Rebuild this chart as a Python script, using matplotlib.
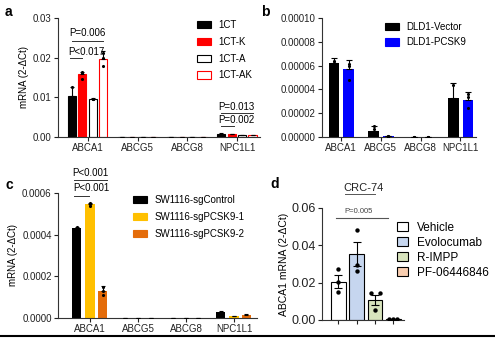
import matplotlib
matplotlib.use("Agg")
import matplotlib.pyplot as plt
from matplotlib.patches import Patch
import numpy as np

plt.rcParams['font.family'] = ['Liberation Sans', 'DejaVu Sans']

W, H = 495, 338

genes = ["ABCA1", "ABCG5", "ABCG8", "NPC1L1"]

# Panel a
a_series = ["1CT", "1CT-K", "1CT-A", "1CT-AK"]
a_means = [[0.0104, 0.0001, 0.0001, 0.0008],
           [0.0158, 0.0001, 0.0001, 0.0007],
           [0.0096, 0.0001, 0.0001, 0.0005],
           [0.0197, 0.0001, 0.0001, 0.0005]]
a_err = [[0.0023, 0.0, 0.0, 0.0001],
         [0.0007, 0.0, 0.0, 0.0001],
         [0.0002, 0.0, 0.0, 0.0001],
         [0.0020, 0.0, 0.0, 0.0001]]
a_pts_abca1 = [[0.0127, 0.0093, 0.0092],
               [0.0165, 0.0162, 0.0146],
               [0.0097, 0.0096, 0.0095],
               [0.0212, 0.0200, 0.0178]]
a_ticks = [0.00, 0.01, 0.02, 0.03]
a_ticklabels = ["0.00", "0.01", "0.02", "0.03"]

# Panel b
b_series = ["DLD1-Vector", "DLD1-PCSK9"]
b_means = [[0.0000625, 0.0000050, 0.0000002, 0.0000330],
           [0.0000570, 0.0000008, 0.0000002, 0.0000310]]
b_err = [[0.0000040, 0.0000040, 0.0, 0.0000120],
         [0.0000075, 0.0000004, 0.0, 0.0000065]]
b_pts = [[[0.0000640, 0.0000620, 0.0000615], [0.0000090, 0.0000070, 0.0000020], [0.0000002] * 3, [0.0000440, 0.0000300, 0.0000250]],
         [[0.0000610, 0.0000600, 0.0000480], [0.0000012, 0.0000008, 0.0000004], [0.0000002] * 3, [0.0000360, 0.0000340, 0.0000240]]]
b_ticks = [0.0, 0.00002, 0.00004, 0.00006, 0.00008, 0.00010]
b_ticklabels = ["0.00000", "0.00002", "0.00004", "0.00006", "0.00008", "0.00010"]

# Panel c
c_series = ["SW1116-sgControl", "SW1116-sgPCSK9-1", "SW1116-sgPCSK9-2"]
c_means = [[0.000430, 0.000002, 0.000002, 0.000030],
           [0.000545, 0.000002, 0.000002, 0.000010],
           [0.000130, 0.000002, 0.000002, 0.000015]]
c_err = [[0.000008, 0.0, 0.0, 0.000006],
         [0.000007, 0.0, 0.0, 0.000002],
         [0.000025, 0.0, 0.0, 0.000003]]
c_pts_abca1 = [[0.000438, 0.000428, 0.000424],
               [0.000552, 0.000545, 0.000538],
               [0.000148, 0.000132, 0.000110]]
c_ticks = [0.0, 0.0002, 0.0004, 0.0006]
c_ticklabels = ["0.0000", "0.0002", "0.0004", "0.0006"]

# Panel d
d_groups = ["Vehicle", "Evolocumab", "R-IMPP", "PF-06446846"]
d_means = [0.0205, 0.0352, 0.0108, 0.0003]
d_sem = [0.0036, 0.0065, 0.0028, 0.0001]
d_pts = [[0.0273, 0.0204, 0.0150],
         [0.0482, 0.0296, 0.0262],
         [0.0145, 0.0145, 0.0054],
         [0.0008, 0.0008, 0.0008]]
d_jitter = [[0.0, 0.0, 0.0],
            [0.0, 0.0, 0.0],
            [-0.25, 0.25, 0.0],
            [-0.22, 0.0, 0.22]]
d_ticks = [0.00, 0.02, 0.04, 0.06]
d_ticklabels = ["0.00", "0.02", "0.04", "0.06"]

a_colors = ["black", "#ff0000", "white", "white"]
a_edges = ["black", "#ff0000", "black", "#ff0000"]
b_colors = ["black", "#0000ff"]
c_colors = ["black", "#ffc000", "#e46c0a"]
d_colors = ["white", "#c6d6ef", "#d8e4bd", "#f9ceb0"]

fig = plt.figure(figsize=(W / 100, H / 100), dpi=100)


def px_axes(x0, y0, x1, y1):
    return fig.add_axes([x0 / W, 1 - y1 / H, (x1 - x0) / W, (y1 - y0) / H])


def style(ax, fs=7):
    for s in ["top", "right"]:
        ax.spines[s].set_visible(False)
    for s in ["left", "bottom"]:
        ax.spines[s].set_linewidth(0.8)
        ax.spines[s].set_color("#333333")
    ax.tick_params(axis="both", length=3, width=0.8, labelsize=fs, pad=1.5, colors="#222222")


def legend(handles_colors, edges, labels, x, y, fs=7, spacing=0.7, hl=1.4):
    hs = [Patch(facecolor=c, edgecolor=e, linewidth=0.8) for c, e in zip(handles_colors, edges)]
    fig.legend(hs, labels, loc="upper left", bbox_to_anchor=(x / W, 1 - y / H),
               frameon=False, fontsize=fs, handlelength=hl, handleheight=0.8,
               labelspacing=spacing, handletextpad=0.8, borderaxespad=0, borderpad=0)


x = np.arange(len(genes))

# ---------------- Panel a ----------------
ax = px_axes(58, 18, 260, 137)
style(ax)
offs = [-0.32, -0.11, 0.10, 0.31]
bw = 0.165
for i in range(4):
    ax.bar(x + offs[i], a_means[i], bw, color=a_colors[i], edgecolor=a_edges[i], linewidth=0.8, zorder=2)
    ax.errorbar(x + offs[i], a_means[i], yerr=[np.zeros(4), a_err[i]], fmt="none",
                ecolor="black", elinewidth=0.8, capsize=1.5, capthick=0.8, zorder=3)
    ax.scatter([offs[i]] * 3, a_pts_abca1[i], s=5, color="black", zorder=4, linewidths=0)
ax.set_ylim(0, 0.03)
ax.set_xlim(-0.6, 3.46)
ax.set_yticks(a_ticks, a_ticklabels)
ax.set_xticks(x, genes)
ax.set_ylabel("mRNA (2-ΔCt)", fontsize=7, labelpad=3)
ax.plot([offs[0], offs[3]], [0.0243, 0.0243], color="#333333", lw=0.7)
ax.text((offs[0] + offs[3]) / 2, 0.0249, "P=0.006", ha="center", va="bottom", fontsize=7)
ax.plot([offs[0] - 0.04, offs[1]], [0.0198, 0.0198], color="#333333", lw=0.7)
ax.text(offs[0] - 0.07, 0.0202, "P<0.017", ha="left", va="bottom", fontsize=7)
ax.plot([3 + offs[0], 3 + offs[3]], [0.0060, 0.0060], color="#333333", lw=0.7, clip_on=False)
ax.text(3 + offs[0] - 0.05, 0.0063, "P=0.013", ha="left", va="bottom", fontsize=7)
ax.plot([3 + offs[0], 3 + offs[1] + 0.05], [0.0027, 0.0027], color="#333333", lw=0.7, clip_on=False)
ax.text(3 + offs[0] - 0.05, 0.0030, "P=0.002", ha="left", va="bottom", fontsize=7)
legend(a_colors, a_edges, a_series, 197, 20)

# ---------------- Panel b ----------------
ax = px_axes(322, 18, 476, 137)
style(ax)
offs_b = [-0.18, 0.19]
bw = 0.27
for i in range(2):
    ax.bar(x + offs_b[i], b_means[i], bw, color=b_colors[i], zorder=2)
    ax.errorbar(x + offs_b[i], b_means[i], yerr=[np.zeros(4), b_err[i]], fmt="none",
                ecolor="black", elinewidth=0.8, capsize=2, capthick=0.8, zorder=3)
    for g in range(4):
        ax.scatter([g + offs_b[i]] * 3, b_pts[i][g], s=5, color="black", zorder=4, linewidths=0)
ax.set_ylim(0, 0.0001)
ax.set_xlim(-0.48, 3.39)
ax.set_yticks(b_ticks, b_ticklabels)
ax.set_xticks(x, genes)
legend(b_colors, b_colors, b_series, 385, 22, spacing=0.55)

# ---------------- Panel c ----------------
ax = px_axes(58, 193, 257, 318)
style(ax)
offs_c = [-0.28, 0.0, 0.26]
bw = 0.2
for i in range(3):
    ax.bar(x + offs_c[i], c_means[i], bw, color=c_colors[i], zorder=2)
    ax.errorbar(x + offs_c[i], c_means[i], yerr=[np.zeros(4), c_err[i]], fmt="none",
                ecolor="black", elinewidth=0.8, capsize=1.5, capthick=0.8, zorder=3)
    ax.scatter([offs_c[i]] * 3, c_pts_abca1[i], s=5, color="black", zorder=4, linewidths=0)
ax.set_ylim(0, 0.0006)
ax.set_xlim(-0.67, 3.48)
ax.set_yticks(c_ticks, c_ticklabels)
ax.set_xticks(x, genes)
ax.set_ylabel("mRNA (2-ΔCt)", fontsize=7, labelpad=3)
ax.plot([offs_c[0] - 0.05, offs_c[2] + 0.1], [0.00066, 0.00066], color="#333333", lw=0.7, clip_on=False)
ax.text((offs_c[0] + offs_c[2]) / 2 + 0.02, 0.000672, "P<0.001", ha="center", va="bottom", fontsize=7)
ax.plot([offs_c[0] - 0.05, offs_c[1] - 0.02], [0.000586, 0.000586], color="#333333", lw=0.7, clip_on=False)
ax.text(offs_c[0] - 0.07, 0.000598, "P<0.001", ha="left", va="bottom", fontsize=7)
legend(c_colors, c_colors, c_series, 133, 195)

# ---------------- Panel d ----------------
ax = px_axes(322, 208, 404, 320)
style(ax, fs=9)
xd = np.arange(len(d_groups))
ax.bar(xd, d_means, 0.8, color=d_colors, edgecolor="black", linewidth=0.8, zorder=2)
ax.errorbar(xd, d_means, yerr=d_sem, fmt="none", ecolor="black", elinewidth=0.8,
            capsize=3, capthick=0.8, zorder=3)
for g in range(4):
    ax.scatter(g + np.array(d_jitter[g]), d_pts[g], s=10, color="black", zorder=4, linewidths=0)
ax.set_ylim(0, 0.06)
ax.set_xlim(-0.9, 3.58)
ax.set_yticks(d_ticks, d_ticklabels)
ax.set_xticks(xd, [""] * 4)
ax.set_ylabel("ABCA1 mRNA (2-ΔCt)", fontsize=7.5, labelpad=2)
ax.plot([-0.15, 2.7], [0.0546, 0.0546], color="#555555", lw=0.8, clip_on=False)
ax.text(1.1, 0.0565, "P=0.005", ha="center", va="bottom", fontsize=5.5, color="#444444")
ax.set_title("CRC-74", fontsize=8, pad=12, color="#222222")
fig.add_artist(plt.Line2D([345 / W, 375 / W], [1 - 194 / H, 1 - 194 / H], color="#555555", lw=0.7))
legend(d_colors, ["black"] * 4, d_groups, 397, 222, fs=8.5, spacing=0.25, hl=0.9)

# panel letters
for lab, (px, py) in {"a": (5, 12), "b": (261, 12), "c": (5, 185), "d": (270, 184)}.items():
    fig.text(px / W, 1 - py / H, lab, fontsize=10, fontweight="bold", va="center", ha="left")

fig.add_artist(plt.Line2D([0, 1], [1 - 336 / H, 1 - 336 / H], color="black", lw=1.5))

fig.savefig("out.png", dpi=100)
